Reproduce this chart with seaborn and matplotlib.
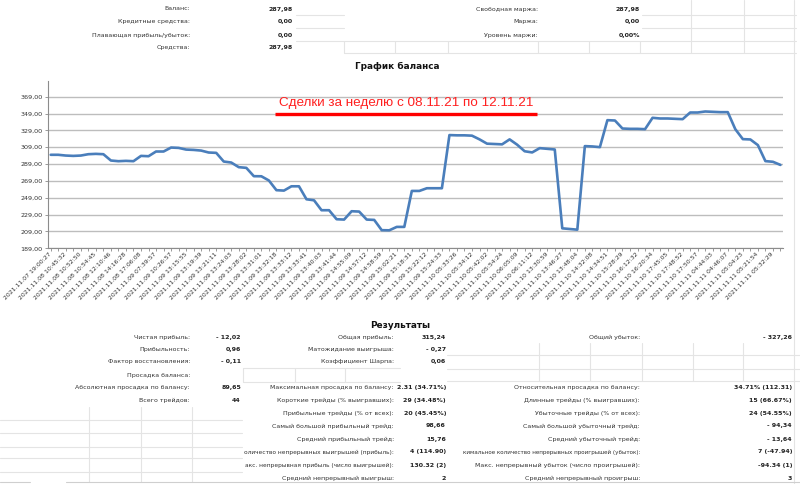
import matplotlib
matplotlib.use("Agg")
import matplotlib.pyplot as plt
import seaborn as sns
import pandas as pd
from matplotlib.transforms import Bbox

# balance points (every 2nd one is labelled on the axis)
balance = [300.00, 300.0, 299.1, 298.7, 299.1, 300.7, 301.1, 300.7, 293.2, 292.4,
           292.8, 292.4, 298.7, 298.3, 303.9, 303.9, 308.6, 308.2, 306.2, 305.8,
           305.0, 302.7, 302.3, 292.0, 290.8, 285.3, 284.5, 274.6, 274.5, 269.5,
           258.0, 257.5, 262.6, 262.6, 247.2, 246.0, 234.2, 234.2, 223.5, 223.1,
           233.0, 232.6, 223.1, 222.7, 210.5, 210.35, 214.4, 214.4, 257.1, 257.1,
           260.3, 260.3, 260.3, 323.4, 323.1, 323.1, 322.7, 318.3, 313.2, 312.8,
           312.4, 318.3, 312.0, 304.2, 302.8, 307.9, 307.1, 306.3, 212.7, 211.9,
           211.1, 310.3, 309.9, 309.1, 341.1, 340.7, 331.2, 330.8, 330.8, 330.4,
           343.9, 343.1, 343.1, 342.7, 342.3, 350.2, 350.2, 351.4, 351.0, 350.6,
           350.6, 330.4, 318.6, 318.2, 311.5, 292.5, 291.7, 287.98]

tick_labels = ["2021.11.07 19:00:27", "2021.11.08 10:45:32", "2021.11.08 10:52:50",
               "2021.11.08 10:54:45", "2021.11.08 12:10:46", "2021.11.08 14:16:28",
               "2021.11.08 17:06:08", "2021.11.09 07:39:57", "2021.11.09 10:26:57",
               "2021.11.09 13:15:55", "2021.11.09 13:19:39", "2021.11.09 13:21:11",
               "2021.11.09 13:24:03", "2021.11.09 13:28:02", "2021.11.09 13:31:01",
               "2021.11.09 13:32:18", "2021.11.09 13:33:12", "2021.11.09 13:33:41",
               "2021.11.09 13:40:03", "2021.11.09 13:41:44", "2021.11.09 14:55:09",
               "2021.11.09 14:57:12", "2021.11.09 14:58:59", "2021.11.09 15:02:21",
               "2021.11.09 15:18:31", "2021.11.09 15:22:12", "2021.11.09 15:24:33",
               "2021.11.10 05:33:26", "2021.11.10 05:34:12", "2021.11.10 05:42:02",
               "2021.11.10 05:54:24", "2021.11.10 06:05:09", "2021.11.10 06:11:12",
               "2021.11.10 13:30:59", "2021.11.10 13:46:27", "2021.11.10 13:48:04",
               "2021.11.10 14:32:08", "2021.11.10 14:34:51", "2021.11.10 15:28:29",
               "2021.11.10 16:12:32", "2021.11.10 16:20:34", "2021.11.10 17:45:05",
               "2021.11.10 17:48:52", "2021.11.10 17:50:57", "2021.11.11 04:44:03",
               "2021.11.11 04:46:07", "2021.11.11 05:04:23", "2021.11.11 05:21:54",
               "2021.11.11 05:32:29"]

y_ticks = [189, 209, 229, 249, 269, 289, 309, 329, 349, 369]

head_left = [("Баланс:", "287,98"), ("Кредитные средства:", "0,00"),
             ("Плавающая прибыль/убыток:", "0,00"), ("Средства:", "287,98")]
head_right = [("Свободная маржа:", "287,98"), ("Маржа:", "0,00"),
              ("Уровень маржи:", "0,00%")]

res_col1 = [("Чистая прибыль:", "- 12,02"), ("Прибыльность:", "0,96"),
            ("Фактор восстановления:", "- 0,11"), ("Просадка баланса:", ""),
            ("Абсолютная просадка по балансу:", "89,65"), ("Всего трейдов:", "44")]
# long labels are cut by the neighbouring cells, as in the sheet
res_col2 = [("Общая прибыль:", "315,24"), ("Матожидание выигрыша:", "- 0,27"),
            ("Коэффициент Шарпа:", "0,06"), ("", ""),
            ("Максимальная просадка по балансу:", "2.31 (34.71%)"),
            ("Короткие трейды (% выигравших):", "29 (34.48%)"),
            ("Прибыльные трейды (% от всех):", "20 (45.45%)"),
            ("Самый большой прибыльный трейд:", "98,66"),
            ("Средний прибыльный трейд:", "15,76"),
            ("оличество непрерывных выигрышей (прибыль):", "4 (114.90)"),
            ("акс. непрерывная прибыль (число выигрышей):", "130.32 (2)"),
            ("Средний непрерывный выигрыш:", "2")]
res_col3 = [("Общий убыток:", "- 327,26"), ("", ""), ("", ""), ("", ""),
            ("Относительная просадка по балансу:", "34.71% (112.31)"),
            ("Длинные трейды (% выигравших):", "15 (66.67%)"),
            ("Убыточные трейды (% от всех):", "24 (54.55%)"),
            ("Самый большой убыточный трейд:", "- 94,34"),
            ("Средний убыточный трейд:", "- 13,64"),
            ("кимальное количество непрерывных проигрышей (убыток):", "7 (-47.94)"),
            ("Макс. непрерывный убыток (число проигрышей):", "-94.34 (1)"),
            ("Средний непрерывный проигрыш:", "3")]

sns.set_theme(style="white")
narrow = ["Liberation Sans Narrow", "DejaVu Sans"]
plt.rcParams["font.family"] = narrow

W, H = 800, 484
fig = plt.figure(figsize=(8, 4.84), dpi=100)
fig.patch.set_facecolor("white")

# page layer in pixel coords
bg = fig.add_axes([0, 0, 1, 1])
bg.set_xlim(0, W)
bg.set_ylim(H, 0)
bg.axis("off")

cell = "#e4e4e4"
# faint spreadsheet grid
for y in [15, 28]:
    bg.plot([296, 344], [y, y], color=cell, lw=0.8)
    bg.plot([642, 796], [y, y], color=cell, lw=0.8)
bg.plot([296, 796], [41, 41], color=cell, lw=0.8)
bg.plot([344, 796], [53, 53], color=cell, lw=0.8)
for x in [344, 395, 448, 538, 589, 640]:
    bg.plot([x, x], [41, 53], color=cell, lw=0.8)
for x in [691, 744]:
    bg.plot([x, x], [0, 53], color=cell, lw=0.8)
bg.plot([794, 794], [0, H], color=cell, lw=0.8)
for y in [368, 382]:
    bg.plot([243, 400], [y, y], color=cell, lw=0.8)
for x in [243, 295, 345]:
    bg.plot([x, x], [368, 382], color=cell, lw=0.8)
for y in [355, 369, 381]:
    bg.plot([447, 800], [y, y], color=cell, lw=0.8)
for x in [539, 590, 642, 693, 743]:
    bg.plot([x, x], [343, 381], color=cell, lw=0.8)
for y in [420, 433, 447, 458, 472]:
    bg.plot([0, 242], [y, y], color=cell, lw=0.8)
for x in [89, 141, 192]:
    bg.plot([x, x], [407, 482], color=cell, lw=0.8)
bg.plot([0, 30], [482, 482], color="#cfcfcf", lw=0.8)
bg.plot([66, 800], [482, 482], color="#cfcfcf", lw=0.8)

fs = 4.5
head_y = [9, 22, 35, 47]
for (lab, val), y in zip(head_left, head_y):
    bg.text(190, y, lab, ha="right", va="center", fontsize=fs, color="#333333")
    bg.text(293, y, val, ha="right", va="center", fontsize=fs, fontweight="bold", color="#222222")
for (lab, val), y in zip(head_right, head_y):
    bg.text(538, y, lab, ha="right", va="center", fontsize=fs, color="#333333")
    bg.text(640, y, val, ha="right", va="center", fontsize=fs, fontweight="bold", color="#222222")

bg.text(397, 66, "График баланса", ha="center", va="center", fontsize=6.4,
        fontweight="bold", family=["DejaVu Sans"], color="#111111")

bg.text(400, 325, "Результаты", ha="center", va="center", fontsize=6.4,
        fontweight="bold", family=["DejaVu Sans"], color="#111111")

res_y = [337, 349.5, 362, 375, 388, 400.5, 413.5, 426, 439, 452, 465, 478]
for (lab, val), y in zip(res_col1, res_y):
    bg.text(190, y, lab, ha="right", va="center", fontsize=fs, color="#333333")
    bg.text(241, y, val, ha="right", va="center", fontsize=fs, fontweight="bold", color="#222222")
clip2 = Bbox([[243, 0], [W, H]])
clip3 = Bbox([[446, 0], [W, H]])
for (lab, val), y in zip(res_col2, res_y):
    size = 4.25 if len(lab) > 40 else fs
    t = bg.text(394, y, lab, ha="right", va="center", fontsize=size, color="#333333")
    t.set_clip_box(clip2)
    t.set_clip_on(True)
    bg.text(446, y, val, ha="right", va="center", fontsize=fs, fontweight="bold", color="#222222")
for (lab, val), y in zip(res_col3, res_y):
    size = 4.1 if len(lab) > 50 else fs
    t = bg.text(640, y, lab, ha="right", va="center", fontsize=size, color="#333333")
    t.set_clip_box(clip3)
    t.set_clip_on(True)
    bg.text(792, y, val, ha="right", va="center", fontsize=fs, fontweight="bold", color="#222222")

# balance chart
ax = fig.add_axes([47.7 / W, 1 - 248.3 / H, (782.7 - 47.7) / W, (248.3 - 81) / H])
ax.patch.set_alpha(0)
df = pd.DataFrame({"n": range(len(balance)), "balance": balance})
sns.lineplot(data=df, x="n", y="balance", ax=ax, color="#4a7ebb", linewidth=1.9)
ax.set_xlim(-0.4, len(balance) - 1 + 0.3)
ax.set_ylim(189, 387.6)
ax.set_yticks(y_ticks)
ax.set_yticklabels([f"{v},00" for v in y_ticks], fontsize=4.6, color="#333333")
ax.set_xticks(range(0, len(balance), 2))
ax.set_xticklabels(tick_labels, rotation=45, ha="right", va="center",
                   rotation_mode="anchor", fontsize=4.4, color="#333333")
ax.set_xticks(range(len(balance)), minor=True)
ax.tick_params(axis="x", which="both", length=2.2, width=0.6, color="#888888",
               direction="out", pad=1.5, bottom=True)
ax.tick_params(axis="y", length=2, width=0.6, color="#888888", direction="out",
               pad=1.5, left=True)
ax.set_xlabel("")
ax.set_ylabel("")
ax.grid(axis="y", color="#bdbdbd", linewidth=1.0)
ax.grid(axis="x", visible=False)
for side in ["top", "right"]:
    ax.spines[side].set_visible(False)
for side in ["left", "bottom"]:
    ax.spines[side].set_color("#8c8c8c")
    ax.spines[side].set_linewidth(0.8)
ax.set_axisbelow(True)

# red caption with underline, on a layer above the chart
top = fig.add_axes([0, 0, 1, 1])
top.set_xlim(0, W)
top.set_ylim(H, 0)
top.axis("off")
top.patch.set_alpha(0)
top.text(406, 103, "Сделки за неделю с 08.11.21 по 12.11.21", ha="center", va="center",
         fontsize=9.7, color="#ff2020", family=["Liberation Sans", "DejaVu Sans"])
top.plot([275, 537], [114, 114], color="#ff0000", lw=2.4, solid_capstyle="butt")

fig.savefig("out.png", dpi=100)
